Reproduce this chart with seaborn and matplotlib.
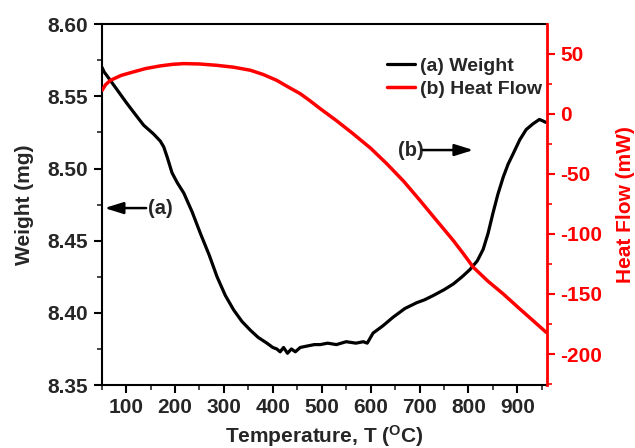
import numpy as np
import pandas as pd
import matplotlib
matplotlib.use("Agg")
import matplotlib.pyplot as plt
from matplotlib.ticker import MultipleLocator
import seaborn as sns

# ---- data ----
temp_w = [51, 55, 68, 85, 102, 120, 136, 156, 170, 177, 184, 194, 205, 218, 235, 252, 270,
          286, 303, 320, 337, 354, 370, 388, 400, 408, 415, 422, 430, 438, 446, 456, 470,
          485, 497, 512, 530, 550, 570, 585, 593, 605, 625, 646, 670, 694, 710, 728, 750,
          769, 787, 803, 818, 830, 840, 850, 860, 871, 881, 891, 905, 918, 932, 945, 952, 958]
weight = [8.570, 8.567, 8.561, 8.553, 8.545, 8.537, 8.530, 8.524, 8.519, 8.515, 8.508, 8.497,
          8.490, 8.483, 8.470, 8.455, 8.440, 8.425, 8.412, 8.402, 8.394, 8.388, 8.383, 8.379,
          8.376, 8.375, 8.373, 8.376, 8.372, 8.375, 8.373, 8.376, 8.377, 8.378, 8.378, 8.379,
          8.378, 8.380, 8.379, 8.380, 8.379, 8.386, 8.391, 8.397, 8.403, 8.407, 8.409, 8.412,
          8.416, 8.420, 8.425, 8.430, 8.436, 8.444, 8.455, 8.469, 8.482, 8.494, 8.503, 8.510,
          8.520, 8.527, 8.531, 8.534, 8.533, 8.532]

temp_h = [51, 58, 68, 90, 115, 140, 170, 195, 218, 250, 285, 320, 354, 380, 408, 430, 456,
          475, 497, 530, 564, 600, 633, 668, 701, 735, 769, 790, 810, 840, 871, 905, 930, 959]
heat = [19.4, 24.0, 27.7, 31.8, 34.7, 37.5, 39.7, 41.0, 41.6, 41.3, 40.2, 38.6, 36.1, 32.6,
        27.7, 22.5, 16.6, 11.0, 4.1, -5.8, -16.7, -28.8, -41.7, -56.5, -72.3, -89.0, -105.6,
        -116.8, -127.9, -139.5, -150.0, -162.5, -171.5, -182.0]

x_ticks = [100, 200, 300, 400, 500, 600, 700, 800, 900]
w_ticks = [8.35, 8.40, 8.45, 8.50, 8.55, 8.60]
h_ticks = [-200, -150, -100, -50, 0, 50]

df_w = pd.DataFrame({"T": temp_w, "W": weight})
df_h = pd.DataFrame({"T": temp_h, "H": heat})

sns.set_style("ticks")
plt.rcParams["font.family"] = ["Liberation Sans", "DejaVu Sans"]
plt.rcParams["font.weight"] = "bold"
plt.rcParams["axes.labelweight"] = "bold"
plt.rcParams["axes.unicode_minus"] = False
plt.rcParams["mathtext.fontset"] = "custom"
plt.rcParams["mathtext.rm"] = "Liberation Sans:bold"
plt.rcParams["mathtext.bf"] = "Liberation Sans:bold"
plt.rcParams["mathtext.it"] = "Liberation Sans:bold"

fig = plt.figure(figsize=(6.35, 4.48), dpi=100)
ax = fig.add_axes([0.160, 0.1406, 0.701, 0.8054])
ax2 = ax.twinx()

sns.lineplot(data=df_w, x="T", y="W", ax=ax, color="black", linewidth=2.3,
             label="(a) Weight", legend=False)
sns.lineplot(data=df_h, x="T", y="H", ax=ax2, color="#ff0000", linewidth=2.5,
             label="(b) Heat Flow", legend=False)

ax.set_xlim(50, 960)
ax.set_ylim(8.35, 8.60)
ax2.set_ylim(-225.8, 74.4)

ax.set_xticks(x_ticks)
ax.xaxis.set_minor_locator(MultipleLocator(50))
ax.set_yticks(w_ticks)
ax.set_yticklabels([f"{v:.2f}" for v in w_ticks])
ax.yaxis.set_minor_locator(MultipleLocator(0.025))
ax2.set_yticks(h_ticks)
ax2.set_yticklabels([str(v) for v in h_ticks])
ax2.yaxis.set_minor_locator(MultipleLocator(25))

fs = 15
ax.tick_params(axis="both", which="major", direction="out", length=6, width=1.5,
               labelsize=fs, color="black")
ax.tick_params(axis="both", which="minor", direction="out", length=3.5, width=1.2)
ax2.tick_params(axis="y", which="major", direction="out", length=6, width=1.5,
                labelsize=fs, colors="#ff0000")
ax2.tick_params(axis="y", which="minor", direction="out", length=3.5, width=1.2,
                colors="#ff0000")
for lab in ax.get_xticklabels() + ax.get_yticklabels() + ax2.get_yticklabels():
    lab.set_fontweight("bold")

for s in ["left", "bottom", "top"]:
    ax.spines[s].set_linewidth(1.5)
    ax.spines[s].set_color("black")
ax.spines["right"].set_visible(False)
for s in ["left", "bottom", "top"]:
    ax2.spines[s].set_visible(False)
ax2.spines["right"].set_color("#ff0000")
ax2.spines["right"].set_linewidth(2.0)

ax.set_xlabel("Temperature, T ($^{\\mathbf{O}}$C)", fontsize=fs, fontweight="bold", labelpad=4)
ax.set_ylabel("Weight (mg)", fontsize=fs, fontweight="bold", labelpad=10)
ax2.set_ylabel("Heat Flow (mW)", fontsize=fs, fontweight="bold", color="#ff0000", labelpad=10)

# annotations
astyle = "-|>,head_length=0.8,head_width=0.25"
ax.annotate("", xy=(56, 8.4726), xytext=(141, 8.4726),
            arrowprops=dict(arrowstyle=astyle, color="black", lw=1.8,
                            mutation_scale=14, shrinkA=0, shrinkB=0))
ax.text(145, 8.4726, "(a)", fontsize=14.5, fontweight="bold", va="center", ha="left")
ax.text(655, 8.5128, "(b)", fontsize=14.5, fontweight="bold", va="center", ha="left")
ax.annotate("", xy=(810, 8.5128), xytext=(707, 8.5128),
            arrowprops=dict(arrowstyle=astyle, color="black", lw=1.8,
                            mutation_scale=14, shrinkA=0, shrinkB=0))

h1, l1 = ax.get_legend_handles_labels()
h2, l2 = ax2.get_legend_handles_labels()
leg = fig.legend(h1 + h2, l1 + l2, loc="upper left",
                 bbox_to_anchor=(387 / 635, 1 - 57 / 448), frameon=False,
                 prop={"family": "Liberation Sans", "weight": "bold", "size": 14},
                 handlelength=1.45, handletextpad=0.25, labelspacing=0.3,
                 borderpad=0, borderaxespad=0)

fig.savefig("out.png", dpi=100)
